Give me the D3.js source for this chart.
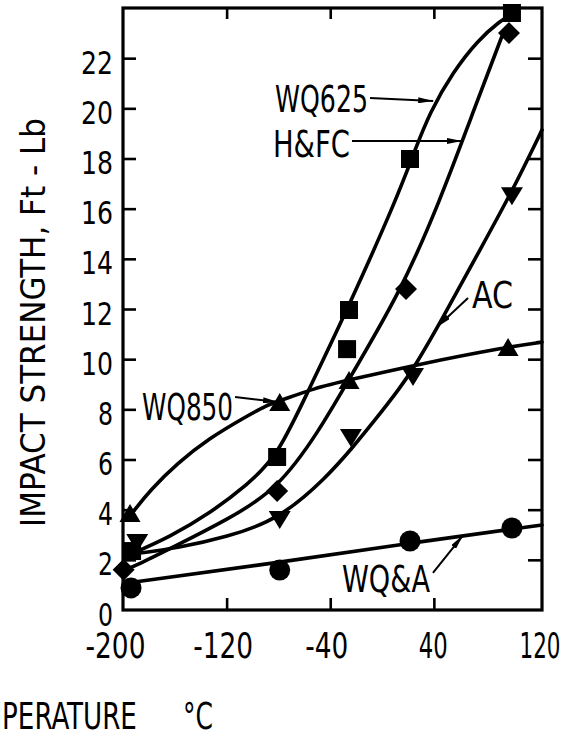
<!DOCTYPE html>
<html>
<head>
<meta charset="utf-8">
<script src="https://cdn.jsdelivr.net/npm/d3@7"></script>
<style>
  html, body { margin: 0; padding: 0; background: #fff; }
  svg { display: block; }
  text { font-family: "Liberation Sans Narrow", "DejaVu Sans Condensed", "Arial Narrow", "DejaVu Sans", sans-serif; fill: #000; }
</style>
</head>
<body>
<svg id="chart" width="573" height="739"></svg>
<script>
// ---- axis ticks ----
const xTickLabels = [-200, -120, -40, 40, 120];
const xInnerTicks = [-120, -40, 40];
const yTickLabels = [0, 2, 4, 6, 8, 10, 12, 14, 16, 18, 20, 22];
const yInnerTicks = [2, 4, 6, 8, 10, 12, 14, 16, 18, 20, 22];

// ---- test points: [temperature °C, impact strength ft-lb] ----
const wq625Points = [[-193, 2.35], [-81, 6.1], [-27, 10.4], [-25.5, 11.96], [21.6, 17.98], [100.3, 23.8]];
const hfcPoints   = [[-199.5, 1.6], [-81, 4.74], [18.5, 12.8], [98, 23.0]];
const acPoints    = [[-189, 2.67], [-79, 3.59], [-24, 6.86], [23.9, 9.29], [100.3, 16.5]];
const wq850Points = [[-194.6, 3.87], [-79, 8.29], [-25.5, 9.17], [97.3, 10.49]];
const wqaPoints   = [[-193.8, 0.88], [-79, 1.59], [21.6, 2.75], [100.3, 3.27]];

// ---- faired curves through each data set ----
const wq625Curve = [[-193, 2.25], [-164, 2.91], [-133, 3.85], [-104, 5.0], [-81, 6.1], [-56, 8.85],
                    [-27, 11.96], [11, 16.35], [25.4, 18.34], [37, 19.85], [54.8, 21.45], [74.1, 22.72],
                    [91.1, 23.48], [100.3, 23.76]];
const hfcCurve   = [[-199, 1.6], [-189, 1.79], [-158, 2.59], [-120, 3.59], [-81, 4.78], [-48, 7.18],
                    [-26, 9.17], [14, 12.64], [45, 16.35], [68, 19.54], [93, 22.93]];
const acCurve    = [[-187, 2.27], [-158, 2.47], [-120, 2.91], [-80, 3.59], [-42.5, 5.3], [-22.4, 6.5],
                    [-5.4, 7.57], [13.9, 8.85], [25.5, 9.73], [44.8, 11.44], [72.5, 14.07], [101, 16.74], [123.5, 19.14]];
const wq850Curve = [[-192.3, 3.91], [-179, 4.78], [-158, 5.86], [-133, 6.86], [-107, 7.65], [-89, 8.17],
                    [-79, 8.33], [-52, 8.85], [-25.5, 9.17], [25.5, 9.77], [97.3, 10.49], [123.5, 10.68]];
const wqaCurve   = [[-197, 1.08], [-77, 1.91], [21.5, 2.67], [123.5, 3.39]];

// ---- curve labels with leader arrows (data units) ----
const labels = [
  { text: "WQ625", at: [-82.6, 19.85], width: 93, from: [-9.3, 20.41], to: [39.5, 20.29] },
  { text: "H&FC",  at: [-84.2, 18.06], width: 77, from: [-23.2, 18.7], to: [61.7, 18.7] },
  { text: "AC",    at: [69.5, 12.04],  width: 41, from: [66.4, 12.44], to: [42.4, 11.28] },
  { text: "WQ850", at: [-185.3, 7.57], width: 91, from: [-113.5, 8.49], to: [-80.3, 8.29] },
  { text: "WQ&A",  at: [-30.9, 0.72],  width: 88, from: [39.3, 1.48], to: [62.5, 2.98] }
];

const svg = d3.select("#chart");
const plotL = 123, plotR = 542, plotT = 8, plotB = 610;

const x = d3.scaleLinear().domain([-200, 123.5]).range([plotL, plotR]);
const y = d3.scaleLinear().domain([0, 24]).range([plotB, plotT]);

// horizontal squeeze factor that brings a text element to the wanted width
const squeeze = (node, width) => width / node.getComputedTextLength();

// arrowhead
svg.append("defs").append("marker")
  .attr("id", "arrow").attr("viewBox", "0 0 15 6")
  .attr("refX", 15).attr("refY", 3)
  .attr("markerWidth", 15).attr("markerHeight", 6)
  .attr("markerUnits", "userSpaceOnUse").attr("orient", "auto")
  .append("path").attr("d", "M0,0 L15,3 L0,6 Z").attr("fill", "#000");

// ---- curves ----
const line = d3.line().x(d => x(d[0])).y(d => y(d[1])).curve(d3.curveBasis);
const curves = [wq625Curve, hfcCurve, acCurve, wq850Curve, wqaCurve];
svg.append("g").selectAll("path").data(curves).join("path")
  .attr("d", line)
  .attr("fill", "none").attr("stroke", "#000")
  .attr("stroke-width", 3.6).attr("stroke-linecap", "round").attr("stroke-linejoin", "round");

// ---- markers ----
const shapes = {
  square:  "M-9,-9H9V9H-9Z",
  diamond: "M0,-11L11,0L0,11L-11,0Z",
  tri:     "M0,-9L10.5,9H-10.5Z",
  invtri:  "M-11,-9H11L0,9Z",
  circle:  d3.symbol(d3.symbolCircle, Math.PI * 10.5 * 10.5)()
};
const markerSets = [
  { pts: wq625Points, shape: "square" },
  { pts: hfcPoints,   shape: "diamond" },
  { pts: acPoints,    shape: "invtri" },
  { pts: wq850Points, shape: "tri" },
  { pts: wqaPoints,   shape: "circle" }
];
const gm = svg.append("g");
markerSets.forEach(s => {
  gm.append("g").selectAll("path").data(s.pts).join("path")
    .attr("transform", d => `translate(${x(d[0])},${y(d[1])})`)
    .attr("d", shapes[s.shape]).attr("fill", "#000");
});

// ---- frame ----
svg.append("rect")
  .attr("x", plotL).attr("y", plotT).attr("width", plotR - plotL).attr("height", plotB - plotT)
  .attr("fill", "none").attr("stroke", "#000").attr("stroke-width", 3.2);

// condensed label widths
const fmt = d => String(d);
const yLabelWidth = d => (d >= 10 ? 32 : 15);
const xLabelWidth = { "-200": 60, "-120": 60, "-40": 43, "40": 29, "120": 41 };
const xLabelShift = { "-200": -8, "-120": -4, "-40": -4, "40": -1, "120": 2 };

// ---- axes (ticks point inward) ----
const yAxis = svg.append("g").attr("transform", `translate(${plotL},0)`)
  .call(d3.axisLeft(y).tickValues(yTickLabels).tickSize(-13).tickPadding(10).tickFormat(fmt));
yAxis.select(".domain").remove();
yAxis.selectAll(".tick line").attr("stroke", "#000").attr("stroke-width", 2.6)
  .attr("display", d => yInnerTicks.includes(d) ? null : "none");
yAxis.selectAll(".tick text").attr("font-size", 31.5).attr("dy", 15).attr("x", 0)
  .attr("transform", function (d) { return `translate(-10,0) scale(${squeeze(this, yLabelWidth(d))},1)`; });

const yAxisR = svg.append("g").attr("transform", `translate(${plotR},0)`)
  .call(d3.axisRight(y).tickValues(yInnerTicks).tickSize(-14).tickFormat(""));
yAxisR.select(".domain").remove();
yAxisR.selectAll(".tick line").attr("stroke", "#000").attr("stroke-width", 2.6);

const xAxis = svg.append("g").attr("transform", `translate(0,${plotB})`)
  .call(d3.axisBottom(x).tickValues(xTickLabels).tickSize(-12).tickPadding(0).tickFormat(fmt));
xAxis.select(".domain").remove();
xAxis.selectAll(".tick line").attr("stroke", "#000").attr("stroke-width", 2.6)
  .attr("display", d => xInnerTicks.includes(d) ? null : "none");
xAxis.selectAll(".tick text").attr("font-size", 35.5).attr("y", 48).attr("dy", 0)
  .attr("transform", function (d) { return `translate(${xLabelShift[d]},0) scale(${squeeze(this, xLabelWidth[d])},1)`; });

const xAxisT = svg.append("g").attr("transform", `translate(0,${plotT})`)
  .call(d3.axisTop(x).tickValues(xInnerTicks).tickSize(-11).tickFormat(""));
xAxisT.select(".domain").remove();
xAxisT.selectAll(".tick line").attr("stroke", "#000").attr("stroke-width", 2.6);

// ---- axis titles ----
const yTitle = svg.append("text")
  .attr("text-anchor", "middle").attr("font-size", 34)
  .text("IMPACT STRENGTH, Ft - Lb");
yTitle.attr("transform", `translate(45,${(118 + 527) / 2}) rotate(-90) scale(${squeeze(yTitle.node(), 409)},1)`);

const xTitle = svg.append("text").attr("font-size", 37).text("TEMPERATURE");
xTitle.attr("transform", `translate(-53,729) scale(${squeeze(xTitle.node(), 190)},1)`);
const xUnit = svg.append("text").attr("font-size", 37).text("°C");
xUnit.attr("transform", `translate(183,729) scale(${squeeze(xUnit.node(), 30)},1)`);

// ---- curve labels ----
const gl = svg.append("g");
labels.forEach(l => {
  const t = gl.append("text").attr("font-size", 37).text(l.text);
  t.attr("transform", `translate(${x(l.at[0])},${y(l.at[1])}) scale(${squeeze(t.node(), l.width)},1)`);
  gl.append("line")
    .attr("x1", x(l.from[0])).attr("y1", y(l.from[1]))
    .attr("x2", x(l.to[0])).attr("y2", y(l.to[1]))
    .attr("stroke", "#000").attr("stroke-width", 2).attr("marker-end", "url(#arrow)");
});
</script>
</body>
</html>
